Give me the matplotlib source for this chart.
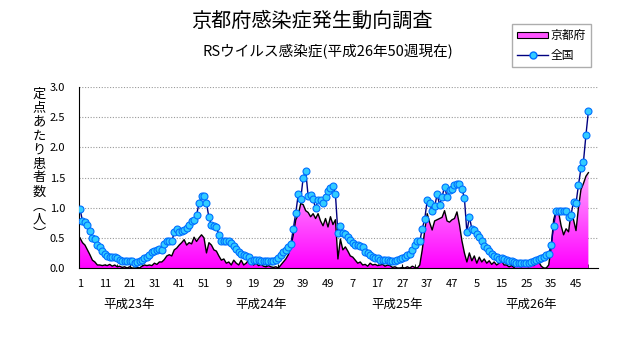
import numpy as np
import matplotlib.pyplot as plt
from matplotlib.colors import LinearSegmentedColormap
from matplotlib.lines import Line2D
from matplotlib.patches import Patch

plt.rcParams['font.family'] = ['Noto Sans CJK JP', 'DejaVu Sans']

# 京都府 定点あたり患者数 (平成23年〜平成26年)
ky_2011 = [0.50, 0.42, 0.38, 0.30, 0.22, 0.13, 0.10, 0.05, 0.05, 0.04,
           0.05, 0.04, 0.06, 0.03, 0.05, 0.02, 0.03, 0.01, 0.02, 0.00,
           0.02, 0.00, 0.00, 0.01, 0.00, 0.03, 0.05, 0.04, 0.05, 0.04,
           0.08, 0.06, 0.10, 0.10, 0.14, 0.20, 0.22, 0.20, 0.30, 0.33,
           0.38, 0.42, 0.47, 0.38, 0.42, 0.40, 0.51, 0.44, 0.50, 0.55,
           0.50, 0.25]
ky_2012 = [0.42, 0.38, 0.30, 0.28, 0.20, 0.13, 0.15, 0.08, 0.10, 0.05,
           0.13, 0.08, 0.05, 0.13, 0.05, 0.08, 0.13, 0.10, 0.05, 0.08,
           0.04, 0.06, 0.03, 0.02, 0.04, 0.02, 0.01, 0.02, 0.00, 0.05,
           0.10, 0.15, 0.22, 0.35, 0.55, 0.80, 0.88, 1.07, 1.05, 0.95,
           0.92, 0.85, 0.90, 0.82, 0.90, 0.78, 0.70, 0.82, 0.68, 0.85,
           0.72, 0.80]
ky_2013 = [0.15, 0.48, 0.30, 0.35, 0.28, 0.20, 0.18, 0.13, 0.08, 0.10,
           0.05, 0.06, 0.03, 0.08, 0.05, 0.06, 0.04, 0.05, 0.06, 0.03,
           0.05, 0.04, 0.01, 0.02, 0.00, 0.00, 0.01, 0.00, 0.02, 0.00,
           0.03, 0.01, 0.00, 0.05, 0.30, 0.62, 0.90, 0.75, 0.63, 0.78,
           0.80, 0.82, 0.84, 0.95, 0.78, 0.76, 0.80, 0.82, 0.93, 0.72,
           0.45, 0.25]
ky_2014 = [0.10, 0.25, 0.12, 0.20, 0.08, 0.18, 0.10, 0.15, 0.08, 0.12,
           0.06, 0.10, 0.05, 0.08, 0.12, 0.05, 0.05, 0.02, 0.04, 0.01,
           0.05, 0.03, 0.02, 0.05, 0.03, 0.02, 0.06, 0.04, 0.08, 0.10,
           0.03, 0.00, 0.00, 0.05, 0.35, 0.80, 0.95, 0.92, 0.70, 0.55,
           0.65, 0.60, 0.92, 0.80, 0.62, 1.00, 1.30, 1.40, 1.52, 1.58]

# 全国
nat_2011 = [0.98, 0.78, 0.76, 0.71, 0.61, 0.49, 0.48, 0.38, 0.34, 0.28,
            0.24, 0.20, 0.19, 0.18, 0.18, 0.16, 0.13, 0.11, 0.11, 0.11,
            0.11, 0.11, 0.08, 0.10, 0.11, 0.13, 0.16, 0.18, 0.22, 0.26,
            0.29, 0.30, 0.31, 0.30, 0.40, 0.44, 0.45, 0.44, 0.59, 0.64,
            0.60, 0.61, 0.63, 0.66, 0.72, 0.78, 0.80, 0.88, 1.07, 1.19,
            1.19, 1.07]
nat_2012 = [0.84, 0.71, 0.69, 0.68, 0.55, 0.45, 0.45, 0.45, 0.44, 0.41,
            0.36, 0.31, 0.26, 0.24, 0.22, 0.20, 0.18, 0.12, 0.13, 0.13,
            0.13, 0.12, 0.11, 0.11, 0.11, 0.11, 0.12, 0.13, 0.16, 0.22,
            0.26, 0.30, 0.35, 0.39, 0.65, 0.91, 1.22, 1.14, 1.50, 1.61,
            1.19, 1.21, 1.14, 0.99, 1.12, 1.13, 1.07, 1.18, 1.28, 1.32,
            1.36, 1.22]
nat_2013 = [0.58, 0.70, 0.58, 0.57, 0.51, 0.46, 0.42, 0.38, 0.38, 0.36,
            0.34, 0.27, 0.25, 0.22, 0.19, 0.17, 0.16, 0.14, 0.13, 0.13,
            0.13, 0.12, 0.12, 0.12, 0.13, 0.145, 0.16, 0.19, 0.21, 0.24,
            0.30, 0.38, 0.44, 0.44, 0.65, 0.81, 1.12, 1.08, 0.94, 1.02,
            1.22, 1.05, 1.18, 1.35, 1.18, 1.29, 1.31, 1.38, 1.40, 1.40,
            1.31, 1.16]
nat_2014 = [0.59, 0.85, 0.65, 0.63, 0.56, 0.51, 0.45, 0.37, 0.33, 0.28,
            0.24, 0.20, 0.18, 0.15, 0.16, 0.15, 0.14, 0.12, 0.11, 0.10,
            0.09, 0.09, 0.09, 0.09, 0.09, 0.09, 0.10, 0.12, 0.13, 0.15,
            0.17, 0.19, 0.21, 0.24, 0.38, 0.70, 0.95, 0.95, 0.94, 0.95,
            0.95, 0.84, 0.88, 1.10, 1.07, 1.38, 1.65, 1.76, 2.20, 2.60]

tick_labels = ['1', '11', '21', '31', '41', '51', '9', '19', '29', '39', '49',
               '7', '17', '27', '37', '47', '5', '15', '25', '35', '45']
year_labels = ['平成23年', '平成24年', '平成25年', '平成26年']
year_pos = [20, 73, 128, 182]

kyoto = ky_2011 + ky_2012 + ky_2013 + ky_2014
zenkoku = nat_2011 + nat_2012 + nat_2013 + nat_2014
weeks = np.arange(len(kyoto))

fig = plt.figure(figsize=(6.31, 3.47), dpi=100)
ax = fig.add_axes([79 / 631, 1 - 268 / 347, (598 - 79) / 631, (268 - 87) / 347])

# 京都府: グラデーション塗りの面グラフ
poly = ax.fill_between(weeks, 0, kyoto, facecolor='none', edgecolor='none')
grad = np.linspace(0, 1, 256).reshape(-1, 1)
cmap = LinearSegmentedColormap.from_list('pink', ['#ff00ff', '#ffa8ff'])
img = ax.imshow(grad, extent=[0, weeks[-1], 0, max(kyoto)], origin='lower',
                aspect='auto', cmap=cmap, zorder=2)
img.set_clip_path(poly.get_paths()[0], transform=ax.transData)
ax.plot(weeks, kyoto, color='black', lw=1, zorder=3)

# 全国: 折れ線
ax.plot(weeks, zenkoku, color='#000080', lw=1, marker='o', ms=5,
        mfc='#33ccff', mec='#0070ff', mew=0.8, zorder=4)

ax.set_xlim(-0.4, (598 - 80) / 2.48)
ax.set_ylim(0, 3.0)
ax.set_yticks(np.arange(0, 3.01, 0.5))
ax.set_yticklabels(['%.1f' % v for v in np.arange(0, 3.01, 0.5)])
ax.set_xticks(np.arange(0, 201, 10))
ax.set_xticklabels(tick_labels)
ax.set_xticks(np.arange(0, 209, 5), minor=True)
ax.tick_params(axis='x', which='both', direction='in', length=3, pad=8, labelsize=8)
ax.tick_params(axis='y', length=0, pad=10, labelsize=8)
ax.yaxis.grid(True, linestyle=(0, (1, 1.5)), color='#999999', lw=0.8)
ax.set_axisbelow(True)
for s in ['top', 'right']:
    ax.spines[s].set_visible(False)

for x, t in zip(year_pos, year_labels):
    ax.text(x, -(304 - 268) / 181, t, transform=ax.get_xaxis_transform(),
            ha='center', va='center', fontsize=9)

# 縦書きの軸ラベル
ylabel = '定点あたり患者数︵人︶'
for i, ch in enumerate(ylabel):
    fig.text(39 / 631, 1 - (94 + i * 14) / 347, ch, ha='center', va='center', fontsize=9.5)

fig.text(312 / 631, 1 - 21 / 347, '京都府感染症発生動向調査', ha='center', va='center', fontsize=14.5)
fig.text(328 / 631, 1 - 52 / 347, 'RSウイルス感染症(平成26年50週現在)', ha='center', va='center', fontsize=10.5)

handles = [Patch(facecolor='#ff55ff', edgecolor='black', lw=0.8),
           Line2D([], [], color='#000080', lw=1, marker='o', ms=5, mfc='#33ccff', mec='#0070ff')]
fig.legend(handles, ['京都府', '全国'], loc='upper right', bbox_to_anchor=(591 / 631, 1 - 24 / 347),
           frameon=True, fancybox=False, edgecolor='#999999', fontsize=8.5, handlelength=2.6,
           handleheight=0.5, borderpad=0.45, labelspacing=0.55, handletextpad=0.2, borderaxespad=0)

fig.savefig('out.png', dpi=100)
